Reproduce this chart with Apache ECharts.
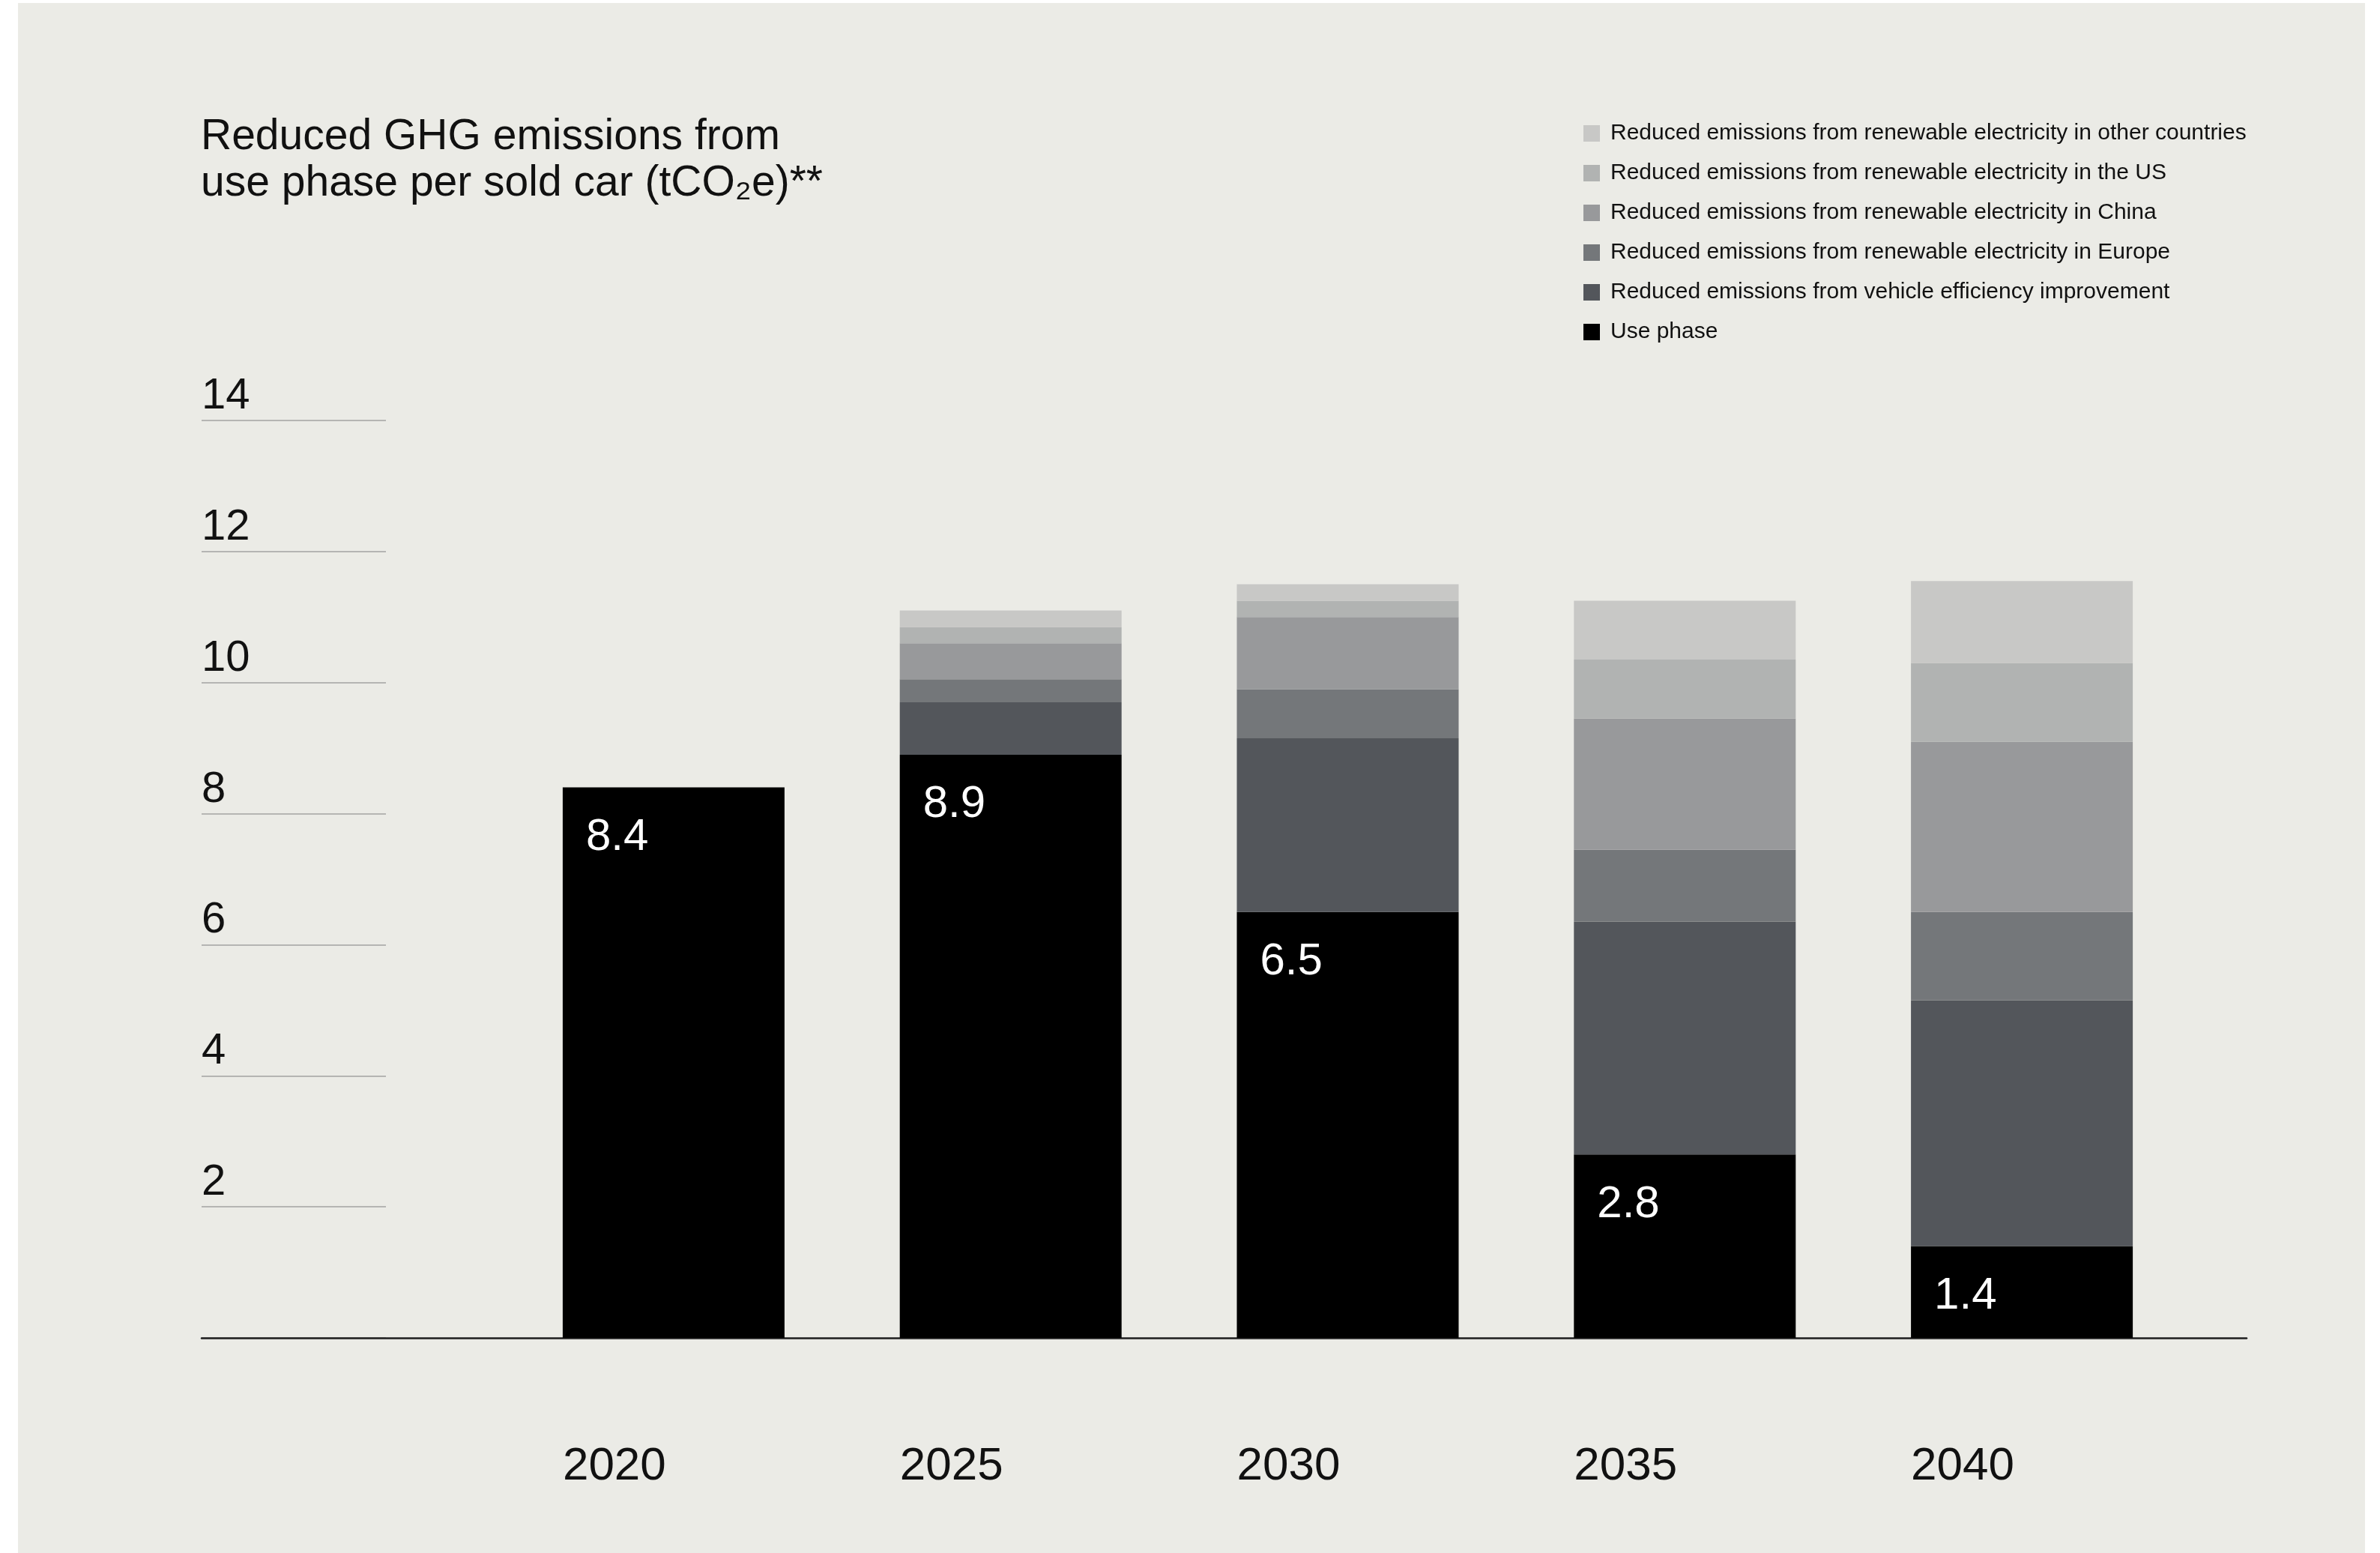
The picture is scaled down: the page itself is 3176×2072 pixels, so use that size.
<!DOCTYPE html>
<html>
<head>
<meta charset="utf-8">
<title>Reduced GHG emissions from use phase per sold car</title>
<script src="https://cdn.jsdelivr.net/npm/echarts@6/dist/echarts.min.js"></script>
<style>
  html, body { margin: 0; padding: 0; background: #ffffff; }
  #chart { width: 3176px; height: 2072px; }
</style>
</head>
<body>
<div id="chart"></div>
<script>
// Years on the category axis
const years = ['2020', '2025', '2030', '2035', '2040'];

// Stacked components, tCO2e per sold car (bottom to top)
const usePhase      = [8.4, 8.9, 6.5, 2.8, 1.4];
const efficiency    = [0, 0.8, 2.65, 3.55, 3.75];
const europe        = [0, 0.35, 0.75, 1.1, 1.35];
const china         = [0, 0.55, 1.1, 2.0, 2.6];
const us            = [0, 0.25, 0.25, 0.9, 1.2];
const otherCountries = [0, 0.25, 0.25, 0.9, 1.25];

// Value axis ticks
const yTicks = [0, 2, 4, 6, 8, 10, 12, 14];

const seriesNames = [
  'Use phase',
  'Reduced emissions from vehicle efficiency improvement',
  'Reduced emissions from renewable electricity in Europe',
  'Reduced emissions from renewable electricity in China',
  'Reduced emissions from renewable electricity in the US',
  'Reduced emissions from renewable electricity in other countries'
];
const seriesData = [usePhase, efficiency, europe, china, us, otherCountries];
const seriesColors = ['#000000', '#53565B', '#74777A', '#98999B', '#B1B3B2', '#C8C8C6'];

const FONT = 'Liberation Sans, Arial, Helvetica, sans-serif';
const BAR_W = 296;
const GRID_TOP = 561;
const GRID_BOTTOM = 287;

const chart = echarts.init(document.getElementById('chart'), null, { renderer: 'canvas' });

const series = seriesNames.map((name, i) => ({
  name: name,
  type: 'bar',
  stack: 'total',
  xAxisIndex: 0,
  yAxisIndex: 0,
  barWidth: BAR_W,
  itemStyle: { color: seriesColors[i] },
  emphasis: { disabled: true },
  label: i === 0 ? {
    show: true,
    position: [31, 37],
    color: '#ffffff',
    fontFamily: FONT,
    fontSize: 60,
    formatter: p => String(p.value)
  } : { show: false },
  data: seriesData[i]
}));

const option = {
  backgroundColor: '#ffffff',
  animation: false,
  graphic: [{
    type: 'rect',
    z: -10,
    silent: true,
    shape: { x: 24, y: 4, width: 3132, height: 2068 },
    style: { fill: '#EBEBE6' }
  }],
  title: {
    text: 'Reduced GHG emissions from\nuse phase per sold car (tCO\u2082e)**',
    left: 268,
    top: 152,
    padding: 0,
    textStyle: {
      fontFamily: FONT,
      fontSize: 57,
      fontWeight: 'normal',
      color: '#111111',
      lineHeight: 62
    }
  },
  legend: {
    orient: 'vertical',
    left: 2113,
    top: 161,
    padding: 0,
    itemWidth: 22,
    itemHeight: 22,
    itemGap: 19,
    icon: 'rect',
    selectedMode: false,
    data: seriesNames.slice().reverse(),
    textStyle: {
      fontFamily: FONT,
      fontSize: 30,
      color: '#111111',
      lineHeight: 34,
      padding: [0, 0, 0, 9]
    }
  },
  grid: [
    // bars
    { left: 674, right: 253, top: GRID_TOP, bottom: GRID_BOTTOM },
    // short gridlines and tick labels on the left
    { left: 269, width: 246, top: GRID_TOP, bottom: GRID_BOTTOM },
    // baseline running across the whole chart
    { left: 269, right: 178, top: GRID_TOP, bottom: GRID_BOTTOM }
  ],
  xAxis: [
    {
      type: 'category',
      gridIndex: 0,
      data: years,
      axisLine: { show: false },
      axisTick: { show: false },
      axisLabel: {
        interval: 0,
        margin: 141,
        formatter: v => '{y|' + v + '}',
        rich: {
          y: {
            width: BAR_W,
            align: 'left',
            fontFamily: FONT,
            fontSize: 62,
            color: '#111111'
          }
        }
      }
    },
    {
      type: 'value',
      gridIndex: 1,
      min: 0, max: 1,
      show: false
    },
    {
      type: 'value',
      gridIndex: 2,
      min: 0, max: 1,
      axisLine: { show: true, lineStyle: { color: '#1E1E1E', width: 2.5 } },
      axisTick: { show: false },
      axisLabel: { show: false },
      splitLine: { show: false }
    }
  ],
  yAxis: [
    {
      type: 'value',
      gridIndex: 0,
      min: yTicks[0],
      max: yTicks[yTicks.length - 1],
      interval: 2,
      show: false
    },
    {
      type: 'value',
      gridIndex: 1,
      min: yTicks[0],
      max: yTicks[yTicks.length - 1],
      interval: yTicks[1] - yTicks[0],
      axisLine: { show: false },
      axisTick: { show: false },
      splitLine: { show: true, lineStyle: { color: '#B5B5B3', width: 2 } },
      axisLabel: {
        inside: true,
        margin: 0,
        showMinLabel: false,
        verticalAlign: 'bottom',
        align: 'left',
        padding: [0, 0, 3, 0],
        fontFamily: FONT,
        fontSize: 58,
        color: '#111111',
        formatter: v => yTicks.includes(v) ? String(v) : ''
      }
    },
    {
      type: 'value',
      gridIndex: 2,
      min: 0, max: 14,
      show: false
    }
  ],
  series: series
};

chart.setOption(option);
</script>
</body>
</html>
